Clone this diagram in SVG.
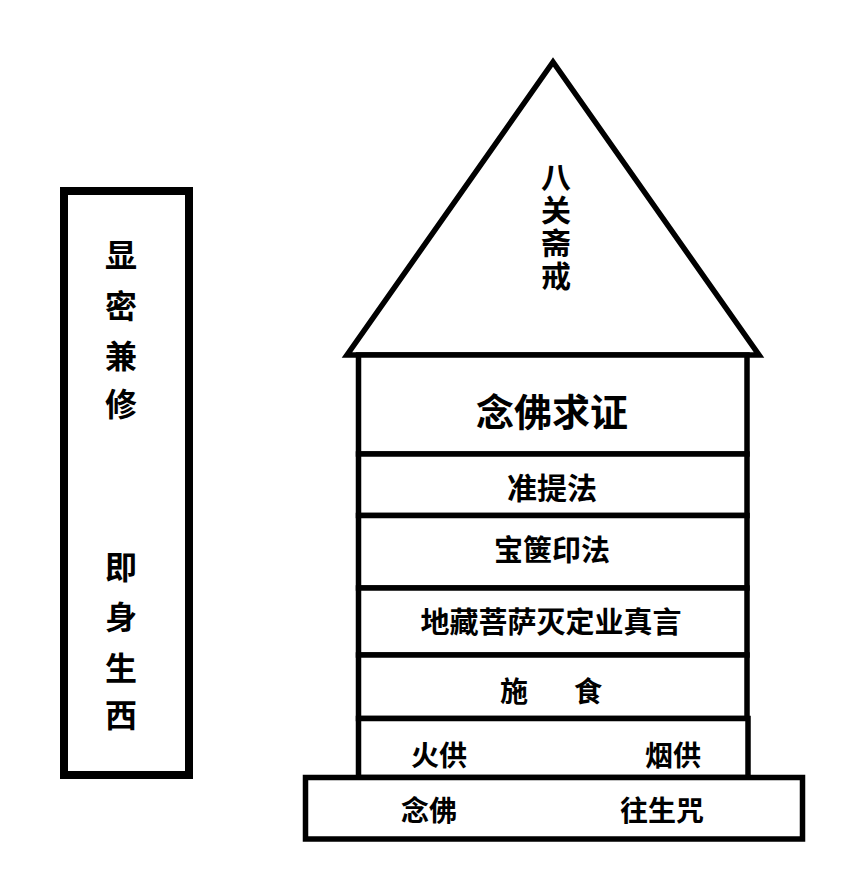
<svg xmlns="http://www.w3.org/2000/svg" width="868" height="882" viewBox="0 0 868 882">
<style>
.ln{fill:#fff;stroke:#000;stroke-width:5.5;stroke-linejoin:miter}
.t{font-family:"Noto Sans CJK SC","Noto Sans CJK TC",sans-serif;font-weight:bold;fill:#000;text-anchor:middle}
.r{font-family:"Noto Sans CJK SC","Noto Sans CJK TC",sans-serif;font-weight:600;fill:#000;text-anchor:middle;writing-mode:vertical-rl;letter-spacing:3px}
</style>
<rect width="868" height="882" fill="#fff"/>
<g id="left-box">
<rect x="64" y="191" width="125" height="584" fill="#fff" stroke="#000" stroke-width="8"/>
<text class="t" font-size="32" x="121"><tspan x="121" y="266.5">显</tspan><tspan x="121" y="317.5">密</tspan><tspan x="121" y="367.5">兼</tspan><tspan x="121" y="415.5">修</tspan></text>
<text class="t" font-size="32" x="121"><tspan x="121" y="578.5">即</tspan><tspan x="121" y="628.5">身</tspan><tspan x="121" y="679.5">生</tspan><tspan x="121" y="726.5">西</tspan></text>
</g>
<g id="roof">
<polygon class="ln" points="553,62 347,355 759,355"/>
<text class="r" font-size="30" x="556" y="228">八关斋戒</text>
</g>
<g id="row-nianfo-qiuzheng">
<rect class="ln" x="358.5" y="355" width="388.5" height="99"/>
<text class="t" font-size="38" x="552" y="425.5">念佛求证</text>
</g>
<g id="row-zhunti">
<rect class="ln" x="358.5" y="454" width="388.5" height="61.5"/>
<text class="t" font-size="30" x="552" y="499">准提法</text>
</g>
<g id="row-baoqie">
<rect class="ln" x="358.5" y="515.5" width="388.5" height="72.5"/>
<text class="t" font-size="29" x="552" y="560.5">宝箧印法</text>
</g>
<g id="row-dizang">
<rect class="ln" x="358.5" y="588" width="388.5" height="67"/>
<text class="t" font-size="29" x="551" y="632.5">地藏菩萨灭定业真言</text>
</g>
<g id="row-shishi">
<rect class="ln" x="358.5" y="655" width="388.5" height="63.5"/>
<text class="t" font-size="28" y="702"><tspan x="514">施</tspan><tspan x="588">食</tspan></text>
</g>
<g id="row-huogong">
<rect class="ln" x="358.5" y="718.5" width="389.5" height="59" stroke-width="6.5"/>
<text class="t" font-size="28" x="439" y="766">火供</text>
<text class="t" font-size="28" x="673" y="766">烟供</text>
</g>
<g id="base">
<rect class="ln" x="305.5" y="777.5" width="497" height="61.5"/>
<text class="t" font-size="28" x="429" y="821">念佛</text>
<text class="t" font-size="28" x="662" y="821">往生咒</text>
</g>
<g id="connectors"></g>
</svg>
